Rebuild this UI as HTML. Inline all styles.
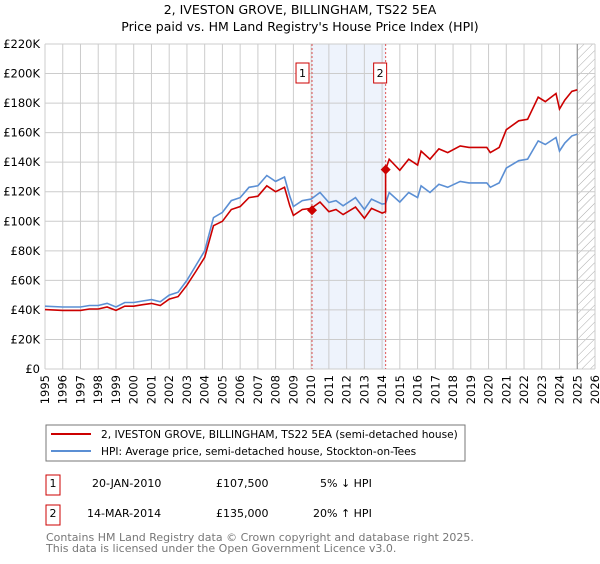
<!DOCTYPE html>
<html><head><meta charset="utf-8"><style>
body{margin:0;background:#fff;font-family:"DejaVu Sans","Liberation Sans",sans-serif;}
svg text{font-family:"DejaVu Sans","Liberation Sans",sans-serif;}
</style></head><body>
<svg id="c" width="600" height="560" viewBox="0 0 600 560">
<text x="300" y="14" text-anchor="middle" font-size="12.5" fill="#000">2, IVESTON GROVE, BILLINGHAM, TS22 5EA</text>
<text x="300" y="31" text-anchor="middle" font-size="12.5" fill="#000">Price paid vs. HM Land Registry's House Price Index (HPI)</text>
<g id="plot"></g>
<g>
<rect x="46" y="425" width="419" height="36" fill="#fff" stroke="#777"/>
<line x1="51" y1="434" x2="91" y2="434" stroke="#cc0000" stroke-width="2"/>
<text x="101" y="438" font-size="10.6">2, IVESTON GROVE, BILLINGHAM, TS22 5EA (semi-detached house)</text>
<line x1="51" y1="451" x2="91" y2="451" stroke="#5b8fd4" stroke-width="2"/>
<text x="101" y="455" font-size="10.6">HPI: Average price, semi-detached house, Stockton-on-Tees</text>
</g>
<g font-size="11">
<rect x="46" y="475" width="14" height="20" fill="#fff" stroke="#cc0000"/>
<text x="53" y="487" text-anchor="middle">1</text>
<text x="92" y="487">20-JAN-2010</text>
<text x="216" y="487">£107,500</text>
<text x="320" y="487">5% ↓ HPI</text>
</g>
<g font-size="11">
<rect x="46" y="505" width="14" height="20" fill="#fff" stroke="#cc0000"/>
<text x="53" y="517" text-anchor="middle">2</text>
<text x="87" y="517">14-MAR-2014</text>
<text x="216" y="517">£135,000</text>
<text x="313" y="517">20% ↑ HPI</text>
</g>
<text x="46" y="541" font-size="11" fill="#777">Contains HM Land Registry data © Crown copyright and database right 2025.</text>
<text x="46" y="552" font-size="11" fill="#777">This data is licensed under the Open Government Licence v3.0.</text>
</svg>
<script>
const hpiYears=[1995,1996,1997,1997.5,1998,1998.5,1999,1999.5,2000,2000.5,2001,2001.5,2002,2002.5,2003,2003.5,2004,2004.5,2005,2005.5,2006,2006.5,2007,2007.5,2008,2008.5,2008.8,2009,2009.5,2010,2010.5,2011,2011.4,2011.8,2012.5,2013,2013.4,2014,2014.2,2014.4,2015,2015.5,2016,2016.2,2016.7,2017.2,2017.7,2018.4,2018.9,2019.9,2020.1,2020.6,2021,2021.7,2022.2,2022.8,2023.2,2023.8,2024,2024.3,2024.7,2025];
const hpiValues=[42.5,42,42,43,43,44.5,42,45,45,46,47,45.5,50,52,60,70,80,102.5,106,114,116,123,124,131,127,130,117,110,114,115,119.5,112.7,114,110.5,116,108,115,111.6,112,119.5,113,119.5,116,124,119.5,125,123,127,126,126,123,126,136,141,142,154.4,152,156.7,147.6,153,157.8,159];
const priceYears=[1995,1996,1997,1997.5,1998,1998.5,1999,1999.5,2000,2000.5,2001,2001.5,2002,2002.5,2003,2003.5,2004,2004.5,2005,2005.5,2006,2006.5,2007,2007.5,2008,2008.5,2008.8,2009,2009.5,2010,2010.5,2011,2011.4,2011.8,2012.5,2013,2013.4,2014,2014.2,2014.2,2014.4,2015,2015.5,2016,2016.2,2016.7,2017.2,2017.7,2018.4,2018.9,2019.9,2020.1,2020.6,2021,2021.7,2022.2,2022.8,2023.2,2023.8,2024,2024.3,2024.7,2025];
const priceValues=[40.2,39.7,39.7,40.6,40.6,42,39.7,42.5,42.5,43.5,44.4,43,47.3,49,56.7,66,75.6,97,100,108,110,116,117,124,120,123,110.5,104,108,108.7,113,106.5,108,104.5,109.6,102,108.7,105.5,106.5,135,142,134.5,142,138,147.5,142,149,146.5,151,150,150,146.5,150,162,168,169,184,181,186.5,176,182,188,189];
const saleYears=[2010.05,2014.2];
const saleValues=[107.5,135];
const saleLabels=["1","2"];
const yTicks=[0,20,40,60,80,100,120,140,160,180,200,220];
const xTicks=[1995,1996,1997,1998,1999,2000,2001,2002,2003,2004,2005,2006,2007,2008,2009,2010,2011,2012,2013,2014,2015,2016,2017,2018,2019,2020,2021,2022,2023,2024,2025,2026];
const X0=45,X1=595,Y0=369,Y1=44;
const xs=y=>X0+(y-1995)/(2026-1995)*(X1-X0);
const ys=v=>Y0-v/220*(Y0-Y1);
const NS="http://www.w3.org/2000/svg";
const g=document.getElementById('plot');
function mk(t,a,p){const e=document.createElementNS(NS,t);for(const k in a)e.setAttribute(k,a[k]);(p||g).appendChild(e);return e;}
let e=mk('rect',{x:xs(2010.05),y:Y1,width:xs(2014.2)-xs(2010.05),height:Y0-Y1,fill:'#eef3fc'});


const defs=mk('defs',{});
const pat=mk('pattern',{id:'hatch',width:6,height:6,patternUnits:'userSpaceOnUse',patternTransform:'rotate(45)'},defs);
mk('line',{x1:0,y1:0,x2:0,y2:6,stroke:'#aaa','stroke-width':1},pat);
e=mk('rect',{x:xs(2025.05),y:Y1,width:X1-xs(2025.05),height:Y0-Y1,fill:'url(#hatch)'});


xTicks.forEach(t=>{
 const l=mk('line',{x1:xs(t),y1:Y1,x2:xs(t),y2:Y0,stroke:'#ccc'});
 
 
 const tx=mk('text',{x:0,y:0,'font-size':11.5,'text-anchor':'end',transform:`translate(${xs(t)+4},${Y0+6}) rotate(-90)`});
 tx.textContent=t;
 
 
});
yTicks.forEach(t=>{
 const l=mk('line',{x1:X0,y1:ys(t),x2:X1,y2:ys(t),stroke:'#ccc'});
 
 
 const tx=mk('text',{x:X0-5,y:ys(t)+4,'font-size':11.5,'text-anchor':'end'});
 tx.textContent=t===0?'£0':'£'+t+'K';
 
 
});
e=mk('line',{x1:xs(2025.0),y1:Y1,x2:xs(2025.0),y2:Y0,stroke:'#888','stroke-width':1});


saleYears.forEach((y,i)=>{
 const l=mk('line',{x1:xs(y),y1:Y1,x2:xs(y),y2:Y0,stroke:'#e05555','stroke-dasharray':'2,2'});
 
 
});
function path(xa,va,c,name){
 const d=xa.map((x,i)=>(i?'L':'M')+xs(x).toFixed(1)+','+ys(va[i]).toFixed(1)).join('');
 const p=mk('path',{d,fill:'none',stroke:c,'stroke-width':1.6});
 
 
}
path(hpiYears,hpiValues,'#5b8fd4','hpi-line');
path(priceYears,priceValues,'#cc0000','price-paid-line');
saleYears.forEach((y,i)=>{
 const cx=xs(y),cy=ys(saleValues[i]);
 const c=mk('path',{d:`M${cx},${cy-5}L${cx+5},${cy}L${cx},${cy+5}L${cx-5},${cy}Z`,fill:'#cc0000'});
 
 
 const bx=xs(y)-(i===0?16:12);
 const r=mk('rect',{x:bx,y:63,width:13,height:20,fill:'#fff',stroke:'#cc0000'});
 
 
 const t=mk('text',{x:bx+6.5,y:77,'font-size':11,'text-anchor':'middle'});
 t.textContent=saleLabels[i];
 
 
});
</script>
</body></html>
